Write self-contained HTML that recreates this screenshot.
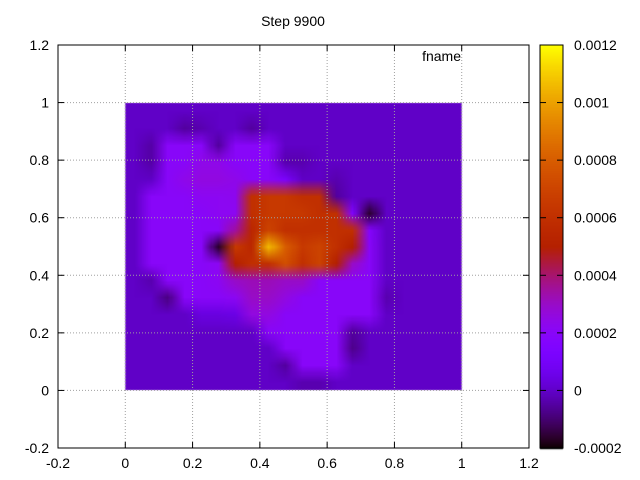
<!DOCTYPE html>
<html><head><meta charset="utf-8"><style>
body{margin:0;background:#fff;width:640px;height:480px;overflow:hidden;font-family:"Liberation Sans",sans-serif}
#wrap{position:relative;width:640px;height:480px}
canvas,svg{position:absolute;left:0;top:0}
</style></head><body>
<div id="wrap">
<canvas id="hm" width="640" height="480"></canvas>
<svg id="sv" width="640" height="480"></svg>
</div>
<script>
// values in units of 1e-4, rows from top (y=1) to bottom (y=0), 20 columns
const gridRows = [
[0,0,0,0,0,0,0,0,0,0,0,0,0,0,0,0,0,0,0,0],
[0,0,0,-0.5,-0.3,0,0,-0.5,0,0,0,0,0,0,0,0,0,0,0,0],
[0,-0.4,2,2,2,-0.5,2,2,2,0,0,0,0,0,0,0,0,0,0,0],
[0,-0.4,2,2,2.4,2.4,2,2,2,-0.3,-0.3,0,0,0,0,0,0,0,0,0],
[0,0,2,2.4,2.6,2.6,2.4,2,2,1.3,0,0,-0.3,0,0,0,0,0,0,0],
[0,2,2,2,2.2,2.2,2.3,6,6.5,6.5,6,6,-0.5,0,0,0,0,0,0,0],
[0,2,2,2,2,2.2,2.2,6,6.5,6.5,6.5,6,6,1.5,-1.6,0,0,0,0,0],
[0,2,2,2,2,2,3.5,5.5,7,6,6,6,6,6,1.8,0,0,0,0,0],
[0,2,2,2,2,-1.6,6.5,5.5,10.5,8,6.5,7,6,5,2,0,0,0,0,0],
[0,2,2,2,2,2.2,5,6,6,7.5,6,7,5,3,2,0,0,0,0,0],
[0,-0.3,2,2,2,2.2,3,3.2,3.2,3,3,2,2,2,2,0,0,0,0,0],
[0,0,-0.8,2,2,2,2.2,3,3,2.6,2,2,2,2,2,-0.3,0,0,0,0],
[0,0,0,0,0.4,0.4,0.5,2.6,2.6,2,2,2,2,2,2,0,0,0,0,0],
[0,0,0,0,0,0,0,0,2,2,2,2,2,-0.5,0,0,0,0,0,0],
[0,0,0,0,0,0,0,0,0,2,2,2,2,-0.7,0,0,0,0,0,0],
[0,0,0,0,0,0,0,0,0,-0.5,2,2,2,0,0,0,0,0,0,0],
[0,0,0,0,0,0,0,0,0,0,-0.3,-0.3,0,0,0,0,0,0,0,0]
];
const xTicks=[-0.2,0,0.2,0.4,0.6,0.8,1,1.2];
const yTicks=[-0.2,0,0.2,0.4,0.6,0.8,1,1.2];
const cbTicks=[-0.0002,0,0.0002,0.0004,0.0006,0.0008,0.001,0.0012];
const cbTickLabels=["-0.0002","0","0.0002","0.0004","0.0006","0.0008","0.001","0.0012"];
const L=58,R=529,T=45,B=448;
const xs=v=>L+(v+0.2)/1.4*(R-L);
const ys=v=>B-(v+0.2)/1.4*(B-T);
const cbMin=-2,cbMax=12;
function pal(v){let t=(v-cbMin)/(cbMax-cbMin);t=Math.max(0,Math.min(1,t));
 const r=Math.sqrt(t),g=t*t*t,b=Math.max(0,Math.sin(2*Math.PI*t));
 return [Math.round(r*255),Math.round(g*255),Math.round(b*255)];}
const c=document.getElementById('hm').getContext('2d');
const nr=gridRows.length,nc=gridRows[0].length;
const off=document.createElement('canvas');off.width=nc;off.height=nr;
const oc=off.getContext('2d');const id=oc.createImageData(nc,nr);
for(let r=0;r<nr;r++)for(let k=0;k<nc;k++){const p=pal(gridRows[r][k]);const i=(r*nc+k)*4;id.data[i]=p[0];id.data[i+1]=p[1];id.data[i+2]=p[2];id.data[i+3]=255;}
oc.putImageData(id,0,0);
c.imageSmoothingEnabled=true;
const x0=xs(0),x1=xs(1),y0=ys(1),y1=ys(0);
c.save();c.beginPath();c.rect(x0,y0,x1-x0,y1-y0);c.clip();
c.drawImage(off,0,0,nc,nr,x0,y0,x1-x0,y1-y0);c.restore();
const cbL=540,cbR=563;
for(let y=T;y<=B;y++){const v=cbMin+(B-y)/(B-T)*(cbMax-cbMin);const p=pal(v);c.fillStyle=`rgb(${p[0]},${p[1]},${p[2]})`;c.fillRect(cbL,y,cbR-cbL,1.2);}
const sv=document.getElementById('sv');const NS='http://www.w3.org/2000/svg';
function mk(t,a,txt){const e=document.createElementNS(NS,t);for(const k in a)e.setAttribute(k,a[k]);if(txt!==undefined)e.textContent=txt;sv.appendChild(e);return e;}
xTicks.forEach((v,i)=>{const x=xs(v);
 if(i>0&&i<xTicks.length-1){const g=mk('line',{x1:x,y1:T,x2:x,y2:B,stroke:'#a0a0a0','stroke-dasharray':'1,2','stroke-width':1});}
 const t=mk('text',{x:x,y:468,'text-anchor':'middle','font-size':14,fill:'#000'},String(v));
 mk('line',{x1:x,y1:B,x2:x,y2:B-6,stroke:'#000'});mk('line',{x1:x,y1:T,x2:x,y2:T+6,stroke:'#000'});});
yTicks.forEach((v,i)=>{const y=ys(v);
 if(i>0&&i<yTicks.length-1){const g=mk('line',{x1:L,y1:y,x2:R,y2:y,stroke:'#a0a0a0','stroke-dasharray':'1,2','stroke-width':1});}
 const t=mk('text',{x:49,y:y+5,'text-anchor':'end','font-size':14,fill:'#000'},String(v));
 mk('line',{x1:L,y1:y,x2:L+6,y2:y,stroke:'#000'});mk('line',{x1:R,y1:y,x2:R-6,y2:y,stroke:'#000'});});
const fr=mk('rect',{x:L,y:T,width:R-L,height:B-T,fill:'none',stroke:'#000'});
const cf=mk('rect',{x:cbL,y:T,width:cbR-cbL,height:B-T,fill:'none',stroke:'#000'});
cbTicks.forEach((v,i)=>{const y=B-(v*1e4-cbMin)/(cbMax-cbMin)*(B-T);
 mk('line',{x1:cbL,y1:y,x2:cbL+6,y2:y,stroke:'#000'});mk('line',{x1:cbR,y1:y,x2:cbR-6,y2:y,stroke:'#000'});
 const t=mk('text',{x:574,y:y+5,'font-size':14,fill:'#000'},cbTickLabels[i]);});
const ti=mk('text',{x:293,y:26,'text-anchor':'middle','font-size':14,fill:'#000'},'Step 9900');
const lg=mk('text',{x:461,y:61,'text-anchor':'end','font-size':14,fill:'#000'},'fname');
</script>
</body></html>
